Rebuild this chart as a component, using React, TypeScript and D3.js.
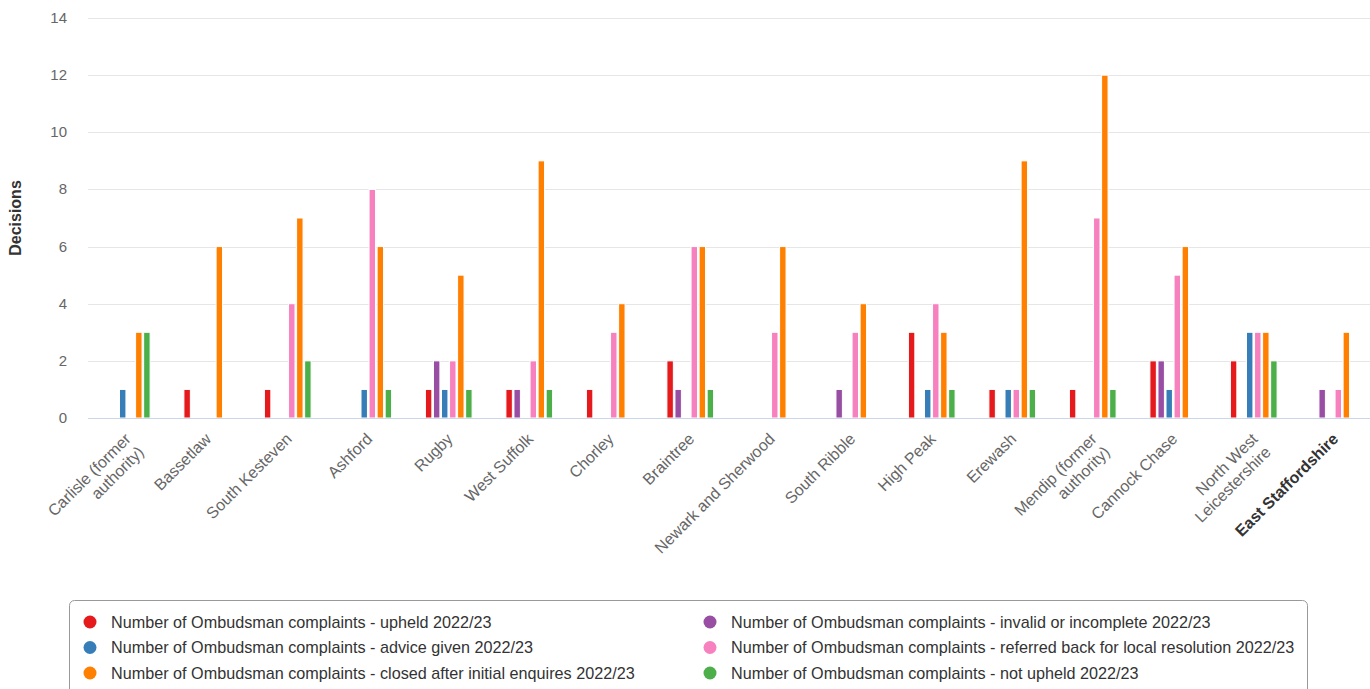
import React from "react";
import * as d3 from "d3";

const categories = [
  "Carlisle (former authority)",
  "Bassetlaw",
  "South Kesteven",
  "Ashford",
  "Rugby",
  "West Suffolk",
  "Chorley",
  "Braintree",
  "Newark and Sherwood",
  "South Ribble",
  "High Peak",
  "Erewash",
  "Mendip (former authority)",
  "Cannock Chase",
  "North West Leicestershire",
  "East Staffordshire",
];

const highlighted = "East Staffordshire";

const seriesNames = [
  "Number of Ombudsman complaints - upheld 2022/23",
  "Number of Ombudsman complaints - invalid or incomplete 2022/23",
  "Number of Ombudsman complaints - advice given 2022/23",
  "Number of Ombudsman complaints - referred back for local resolution 2022/23",
  "Number of Ombudsman complaints - closed after initial enquires 2022/23",
  "Number of Ombudsman complaints - not upheld 2022/23",
];

const seriesColors = ["#e41a1c", "#984ea3", "#377eb8", "#f781bf", "#ff7f00", "#4daf4a"];

const upheld = [0, 1, 1, 0, 1, 1, 1, 2, 0, 0, 3, 1, 1, 2, 2, 0];
const invalid = [0, 0, 0, 0, 2, 1, 0, 1, 0, 1, 0, 0, 0, 2, 0, 1];
const advice = [1, 0, 0, 1, 1, 0, 0, 0, 0, 0, 1, 1, 0, 1, 3, 0];
const referred = [0, 0, 4, 8, 2, 2, 3, 6, 3, 3, 4, 1, 7, 5, 3, 1];
const closed = [3, 6, 7, 6, 5, 9, 4, 6, 6, 4, 3, 9, 12, 6, 3, 3];
const notUpheld = [3, 0, 2, 1, 1, 1, 0, 1, 0, 0, 1, 1, 1, 0, 2, 0];

const seriesValues = [upheld, invalid, advice, referred, closed, notUpheld];

const yTicks = [0, 2, 4, 6, 8, 10, 12, 14];
const yTitle = "Decisions";

const FONT = "Arial, 'Liberation Sans', Helvetica, sans-serif";

function wrapLabel(s: string): string[] {
  if (s.length <= 20) return [s];
  const words = s.split(" ");
  const lines: string[] = [];
  let cur = "";
  for (const w of words) {
    const t = cur ? cur + " " + w : w;
    if (t.length > 16 && cur) {
      lines.push(cur);
      cur = w;
    } else cur = t;
  }
  if (cur) lines.push(cur);
  return lines;
}

export default function App() {
  const W = 1370;
  const H = 689;
  const left = 86.5;
  const right = 1374.5;
  const top = 18;
  const bottom = 418;

  const x = d3.scaleBand<string>().domain(categories).range([left, right]);
  const bw = x.bandwidth();
  const xs = d3
    .scaleBand<number>()
    .domain(d3.range(seriesNames.length))
    .range([0.2 * bw, 0.8 * bw])
    .paddingInner(0.2)
    .paddingOuter(0.1);
  const y = d3.scaleLinear().domain([0, 14]).range([bottom, top]);

  return (
    <svg
      width={W}
      height={H}
      style={{ position: "absolute", left: 0, top: 0, background: "#fff" }}
      fontFamily={FONT}
    >
      {yTicks.map((t) =>
        t === 0 ? null : (
          <line key={t} x1={88} x2={W} y1={Math.round(y(t)) + 0.5} y2={Math.round(y(t)) + 0.5} stroke="#e6e6e6" strokeWidth={1} />
        )
      )}
      {yTicks.map((t) => (
        <text key={"yl" + t} x={67} y={y(t) + 5} textAnchor="end" fontSize={15} fill="#666">
          {t}
        </text>
      ))}
      <text
        transform={`translate(21, ${(top + bottom) / 2}) rotate(-90)`}
        textAnchor="middle"
        fontSize={16}
        fontWeight="bold"
        fill="#333"
      >
        {yTitle}
      </text>
      {categories.map((c, ci) => (
        <g key={c} transform={`translate(${x(c)},0)`}>
          {seriesValues.map((vals, si) =>
            vals[ci] > 0 ? (
              <rect
                key={si}
                x={xs(si)}
                y={y(vals[ci])}
                width={xs.bandwidth()}
                height={y(0) - y(vals[ci])}
                fill={seriesColors[si]}
                stroke="#fff"
                strokeWidth={1}
              />
            ) : null
          )}
        </g>
      ))}
      <line x1={88} x2={W} y1={bottom + 0.5} y2={bottom + 0.5} stroke="#ccd6eb" strokeWidth={1} />
      {categories.map((c) => {
        const cx = (x(c) as number) + bw / 2 + 5;
        const cy = 440;
        const lines = wrapLabel(c);
        const hl = c === highlighted;
        return (
          <text
            key={"xl" + c}
            transform={`translate(${cx},${cy}) rotate(-45)`}
            textAnchor="end"
            fontSize={16}
            fill={hl ? "#333" : "#666"}
            fontWeight={hl ? "bold" : "normal"}
          >
            {lines.map((l, i) => (
              <tspan key={i} x={0} dy={i === 0 ? 0 : 18.5}>
                {l}
              </tspan>
            ))}
          </text>
        );
      })}
      <rect x={69.5} y={600.5} width={1238} height={110} rx={5} fill="#fff" stroke="#999" strokeWidth={1} />
      {seriesNames.map((name, si) => {
        const col = si % 2;
        const row = Math.floor(si / 2);
        const lx = col === 0 ? 90 : 710;
        const ly = 622 + row * 25.5;
        return (
          <g key={"lg" + si}>
            <circle cx={lx} cy={ly} r={6.5} fill={seriesColors[si]} />
            <text x={lx + 21} y={ly + 5.5} fontSize={16.2} fill="#333">
              {name}
            </text>
          </g>
        );
      })}
    </svg>
  );
}
